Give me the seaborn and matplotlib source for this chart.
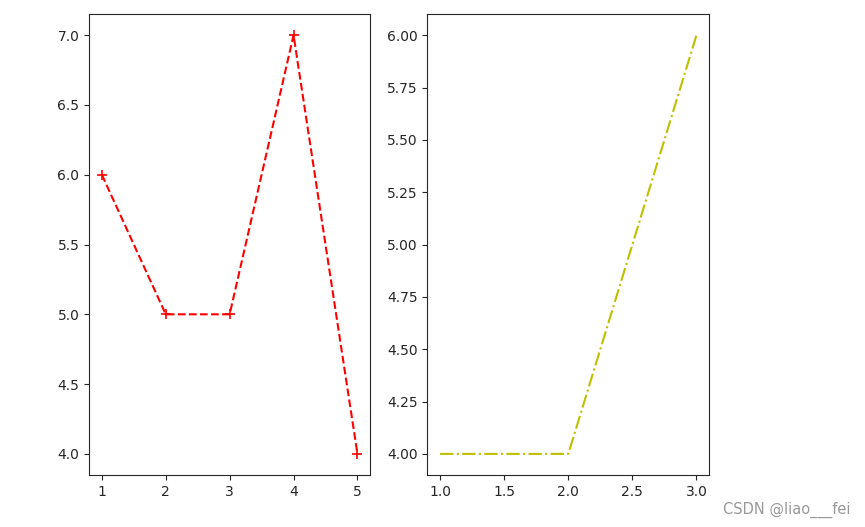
import matplotlib
matplotlib.use("Agg")
import matplotlib.pyplot as plt
import seaborn as sns

# left panel
x1 = [1, 2, 3, 4, 5]
y1 = [6, 5, 5, 7, 4]

# right panel
x2 = [1, 2, 3]
y2 = [4, 4, 6]

plt.rcParams['text.color'] = '#262626'
plt.rcParams['xtick.color'] = '#262626'
plt.rcParams['ytick.color'] = '#262626'
plt.rcParams['axes.edgecolor'] = '#262626'

fig = plt.figure(figsize=(8.65, 5.27), dpi=100)
ax1 = fig.add_axes([0.103, 0.099, 0.325, 0.874])
ax2 = fig.add_axes([0.494, 0.099, 0.326, 0.874])

sns.lineplot(x=x1, y=y1, ax=ax1, color='r', linestyle='--', marker='+',
             markersize=7, markeredgewidth=1.2, markeredgecolor='r')
sns.lineplot(x=x2, y=y2, ax=ax2, color='y', linestyle='-.')

ax1.set_yticks([4.0, 4.5, 5.0, 5.5, 6.0, 6.5, 7.0])
ax2.set_yticks([4.0, 4.25, 4.5, 4.75, 5.0, 5.25, 5.5, 5.75, 6.0])

fig.text(0.983, 0.018, 'CSDN @liao___fei', ha='right', va='bottom',
         fontsize=10.5, color='#999999')

fig.savefig('out.png', dpi=100)
